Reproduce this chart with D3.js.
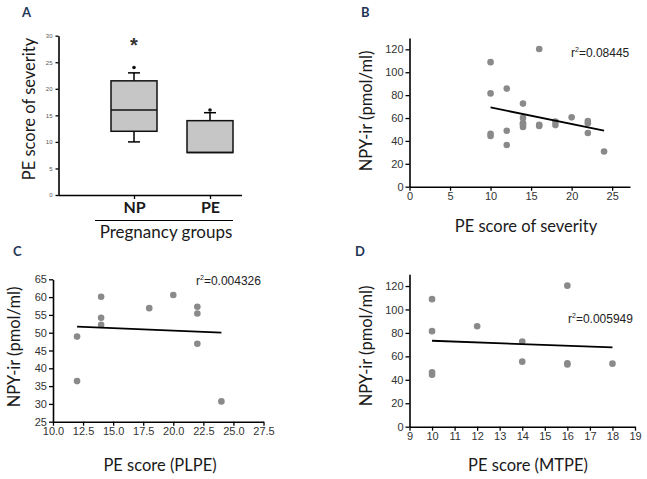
<!DOCTYPE html>
<html>
<head>
<meta charset="utf-8">
<script src="https://cdn.jsdelivr.net/npm/d3@7"></script>
<style>
  body { margin: 0; background: #fff; }
  svg { display: block; }
  .tick text { font-family: "Liberation Sans", Arial, sans-serif; fill: #333; }
  .title { font-family: Lato, "Open Sans", sans-serif; fill: #1a1a1a; }
  .panel { font-family: Lato, sans-serif; font-weight: bold; font-size: 13px; fill: #1f3556; }
  .r2 { font-family: "Liberation Sans", Arial, sans-serif; font-size: 12px; fill: #222; }
</style>
</head>
<body>
<svg id="chart" width="647" height="479"></svg>
<script>
// data

// panel A: box plot of PE score by pregnancy group
let boxGroups = ['NP', 'PE'];
let boxMin = [10, 8];
let boxQ1 = [12, 8];
let boxMedian = [16, 8];
let boxQ3 = [21.5, 14];
let boxMax = [23, 15.5];
let boxOutlier = [24, 16];

// panel C: PLPE score vs NPY-ir
let plpeScore = [12, 12, 14, 14, 14, 18, 20, 22, 22, 22, 24];
let plpeNpy = [48.9, 36.4, 60.1, 54.2, 52.2, 56.9, 60.6, 57.3, 55.4, 46.9, 30.7];

// panel D: MTPE score vs NPY-ir
let mtpeScore = [10, 10, 10, 10, 12, 14, 14, 16, 16, 16, 18];
let mtpeNpy = [108.8, 81.5, 46.3, 44.3, 85.7, 72.6, 55.5, 120.3, 54, 53, 53.8];

// panel B: all women together
let severityScore = plpeScore.concat(mtpeScore);
let severityNpy = plpeNpy.concat(mtpeNpy);

// fitted lines [x0, y0, x1, y1]
let fitB = [10, 69.3, 24, 48.9];
let fitC = [12, 51.7, 24, 50.0];
let fitD = [10, 73.3, 18, 67.7];

let ticksA = [0, 5, 10, 15, 20, 25, 30];
let ticksNpy = [0, 20, 40, 60, 80, 100, 120];
let ticksSeverity = [0, 5, 10, 15, 20, 25];
let ticksPlpeX = [10, 12.5, 15, 17.5, 20, 22.5, 25, 27.5];
let ticksPlpeY = [25, 30, 35, 40, 45, 50, 55, 60, 65];
let ticksMtpe = [9, 10, 11, 12, 13, 14, 15, 16, 17, 18, 19];

let svg = d3.select('#chart');
let dotColor = '#8a8a8a';
let titleSize = 16.5;

function styleAxis(g, fontSize) {
    g.select('.domain').attr('stroke', '#000').attr('stroke-width', 1.6);
    g.selectAll('.tick line').attr('stroke', '#000').attr('stroke-width', 1.3);
    g.selectAll('.tick text').style('font-size', fontSize + 'px');
}

// ---------- panel A ----------
let yA = d3.scaleLinear().domain([0, 30]).range([195, 35.7]);
let xA = d3.scalePoint().domain(boxGroups).range([134, 210]);
let boxWidth = 46;

svg.append('g')
    .attr('transform', 'translate(58.5,0)')
    .call(d3.axisLeft(yA).tickValues(ticksA).tickSize(3).tickPadding(3).tickSizeOuter(0))
    .call(g => styleAxis(g, 6))
    .call(g => g.selectAll('.tick text').style('fill', '#555'));

svg.append('g')
    .attr('transform', `translate(0,${yA(0)})`)
    .call(d3.axisBottom(xA).tickSize(4).tickPadding(3).tickSizeOuter(0))
    .call(g => g.select('.domain').attr('d', `M58.5,0.5H242`))
    .call(g => styleAxis(g, 16))
    .call(g => g.selectAll('.tick text')
        .style('font-family', 'Lato, sans-serif')
        .style('font-weight', 'bold')
        .style('fill', '#1a1a1a'));

let boxes = svg.append('g').selectAll('g')
    .data(boxGroups)
    .join('g');

boxes.append('line')
    .attr('x1', d => xA(d)).attr('x2', d => xA(d))
    .attr('y1', (d, i) => yA(boxMin[i])).attr('y2', (d, i) => yA(boxMax[i]))
    .attr('stroke', '#000').attr('stroke-width', 1.5);

boxes.append('line')
    .attr('x1', d => xA(d) - 6).attr('x2', d => xA(d) + 6)
    .attr('y1', (d, i) => yA(boxMax[i])).attr('y2', (d, i) => yA(boxMax[i]))
    .attr('stroke', '#000').attr('stroke-width', 1.5);

boxes.filter((d, i) => boxMin[i] < boxQ1[i]).append('line')
    .attr('x1', d => xA(d) - 6).attr('x2', d => xA(d) + 6)
    .attr('y1', d => yA(boxMin[boxGroups.indexOf(d)])).attr('y2', d => yA(boxMin[boxGroups.indexOf(d)]))
    .attr('stroke', '#000').attr('stroke-width', 1.5);

boxes.append('rect')
    .attr('x', d => xA(d) - boxWidth / 2)
    .attr('y', (d, i) => yA(boxQ3[i]))
    .attr('width', boxWidth)
    .attr('height', (d, i) => yA(boxQ1[i]) - yA(boxQ3[i]))
    .attr('fill', '#c6c6c6').attr('stroke', '#111').attr('stroke-width', 1.5);

boxes.append('line')
    .attr('x1', d => xA(d) - boxWidth / 2).attr('x2', d => xA(d) + boxWidth / 2)
    .attr('y1', (d, i) => yA(boxMedian[i])).attr('y2', (d, i) => yA(boxMedian[i]))
    .attr('stroke', '#111').attr('stroke-width', 1.5);

boxes.append('circle')
    .attr('cx', d => xA(d)).attr('cy', (d, i) => yA(boxOutlier[i]))
    .attr('r', 1.8).attr('fill', '#111');

svg.append('text')
    .attr('x', xA('NP')).attr('y', 52)
    .attr('text-anchor', 'middle')
    .style('font-family', 'Liberation Sans, sans-serif').style('font-size', '20px').style('font-weight', 'bold')
    .style('fill', '#333')
    .text('*');

svg.append('line')
    .attr('x1', 95).attr('x2', 233).attr('y1', 220.5).attr('y2', 220.5)
    .attr('stroke', '#000').attr('stroke-width', 1);

svg.append('text').attr('class', 'title')
    .attr('x', 166).attr('y', 238).attr('text-anchor', 'middle')
    .style('font-size', '17px').text('Pregnancy groups');

svg.append('text').attr('class', 'title')
    .attr('transform', 'translate(35,109) rotate(-90)')
    .attr('text-anchor', 'middle')
    .style('font-size', titleSize + 'px').text('PE score of severity');

svg.append('text').attr('class', 'panel').attr('x', 22).attr('y', 17).text('A');

// ---------- scatter panels ----------
function scatter(opts) {
    let x = d3.scaleLinear().domain(opts.xDomain).range(opts.xRange);
    let y = d3.scaleLinear().domain(opts.yDomain).range(opts.yRange);

    svg.append('g')
        .attr('transform', `translate(${opts.xRange[0]},0)`)
        .call(d3.axisLeft(y).tickValues(opts.yTicks).tickSize(4).tickPadding(2).tickSizeOuter(0))
        .call(g => styleAxis(g, 11));

    svg.append('g')
        .attr('transform', `translate(0,${opts.yRange[0]})`)
        .call(d3.axisBottom(x).tickValues(opts.xTicks).tickSize(4).tickPadding(2).tickSizeOuter(0)
            .tickFormat(opts.xFormat || (d => d)))
        .call(g => styleAxis(g, 11));

    svg.append('g').selectAll('circle')
        .data(opts.xs)
        .join('circle')
        .attr('cx', d => x(d))
        .attr('cy', (d, i) => y(opts.ys[i]))
        .attr('r', 3.3)
        .attr('fill', dotColor);

    svg.append('line')
        .attr('x1', x(opts.fit[0])).attr('y1', y(opts.fit[1]))
        .attr('x2', x(opts.fit[2])).attr('y2', y(opts.fit[3]))
        .attr('stroke', '#000').attr('stroke-width', 1.8);

    let r2 = svg.append('text').attr('class', 'r2')
        .attr('x', opts.r2Pos[0]).attr('y', opts.r2Pos[1]);
    r2.append('tspan').text('r');
    r2.append('tspan').attr('dy', -5).style('font-size', '7px').text('2');
    r2.append('tspan').attr('dy', 5).text('=' + opts.r2);

    svg.append('text').attr('class', 'title')
        .attr('transform', `translate(${opts.yTitlePos[0]},${opts.yTitlePos[1]}) rotate(-90)`)
        .attr('text-anchor', 'middle')
        .style('font-size', titleSize + 'px').text('NPY-ir (pmol/ml)');

    svg.append('text').attr('class', 'title')
        .attr('x', opts.xTitlePos[0]).attr('y', opts.xTitlePos[1])
        .attr('text-anchor', 'middle')
        .style('font-size', titleSize + 'px').text(opts.xTitle);

    svg.append('text').attr('class', 'panel')
        .attr('x', opts.label[1]).attr('y', opts.label[2]).text(opts.label[0]);
}

scatter({
    xDomain: [0, 27.2], xRange: [409.5, 630],
    yDomain: [0, 130], yRange: [186.7, 37.9],
    xTicks: ticksSeverity, yTicks: ticksNpy,
    xs: severityScore, ys: severityNpy, fit: fitB,
    r2: '0.08445', r2Pos: [571, 57],
    yTitlePos: [372, 111], xTitlePos: [526, 232], xTitle: 'PE score of severity',
    label: ['B', 361, 17]
});

scatter({
    xDomain: [10, 27.5], xRange: [53, 263.5],
    yDomain: [25, 65], yRange: [421.7, 279.3],
    xTicks: ticksPlpeX, yTicks: ticksPlpeY,
    xFormat: d3.format('.1f'),
    xs: plpeScore, ys: plpeNpy, fit: fitC,
    r2: '0.004326', r2Pos: [196, 285],
    yTitlePos: [20, 347], xTitlePos: [160, 471], xTitle: 'PE score (PLPE)',
    label: ['C', 13, 256]
});

scatter({
    xDomain: [9, 19], xRange: [409.5, 635],
    yDomain: [0, 130], yRange: [426.7, 274.3],
    xTicks: ticksMtpe, yTicks: ticksNpy,
    xs: mtpeScore, ys: mtpeNpy, fit: fitD,
    r2: '0.005949', r2Pos: [568, 323],
    yTitlePos: [372, 346], xTitlePos: [528, 471], xTitle: 'PE score (MTPE)',
    label: ['D', 355, 256]
});
</script>
</body>
</html>
